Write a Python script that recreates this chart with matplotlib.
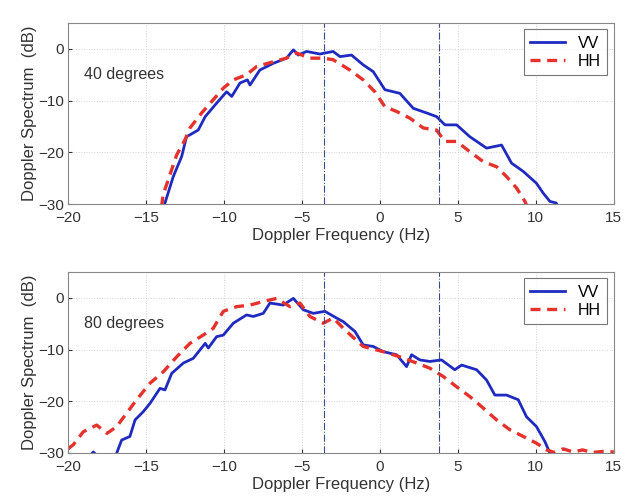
import matplotlib.pyplot as plt

plt.rcParams['font.family'] = ['Liberation Sans', 'DejaVu Sans']

# 40 degrees panel
vv40_f = [-13.9, -13.78, -13.25, -12.71, -12.4, -11.65, -11.2, -10.47, -9.83, -9.5, -8.97, -8.5, -8.33,
          -7.7, -6.84, -5.99, -5.55, -5.24, -4.7, -3.85, -3.0, -2.56, -1.82, -1.07, -0.43, 0.32, 1.28,
          2.14, 3.0, 3.63, 4.17, 4.92, 5.77, 6.84, 7.8, 8.44, 9.19, 10.04, 10.47, 10.9, 11.3, 11.5]
vv40_db = [-31, -29.8, -24.7, -20.8, -17.0, -15.7, -13.1, -10.5, -8.3, -9.2, -6.6, -6.0, -7.0,
           -4.1, -2.8, -1.8, -0.2, -1.2, -0.5, -1.0, -0.5, -1.5, -1.2, -3.1, -4.4, -7.9, -8.6,
           -11.5, -12.4, -13.1, -14.7, -14.7, -17.0, -19.2, -18.6, -22.1, -23.7, -26.0, -27.9, -29.5, -29.8, -31]
hh40_f = [-14.0, -13.9, -13.57, -13.03, -12.5, -12.18, -11.43, -10.79, -10.04, -9.4, -8.55, -7.9, -6.84,
          -6.0, -5.35, -4.5, -3.6, -3.0, -1.92, -1.07, -0.32, 0.32, 1.07, 1.92, 2.78, 3.63, 4.17,
          4.92, 5.77, 6.62, 7.48, 8.12, 8.76, 9.3, 9.5]
hh40_db = [-30.5, -28.2, -25.3, -20.5, -17.6, -15.3, -12.4, -10.2, -7.6, -6.0, -5.0, -3.4, -2.5,
           -1.8, -0.8, -1.8, -1.8, -2.1, -4.1, -6.0, -8.3, -11.2, -12.1, -13.4, -15.3, -15.7, -17.9,
           -17.9, -19.9, -21.8, -22.8, -24.7, -26.9, -29.5, -31]

# 80 degrees panel
vv80_f = [-18.6, -18.38, -18.1, -17.2, -16.9, -16.56, -16.03, -15.7, -15.17, -14.74, -14.1, -13.78,
          -13.35, -12.6, -11.97, -11.2, -11.0, -10.47, -10.04, -9.4, -8.55, -8.12, -7.48, -7.05,
          -6.2, -5.55, -4.91, -4.27, -3.53, -2.78, -2.35, -1.6, -1.07, -0.43, 0.21, 1.07, 1.71,
          2.03, 2.56, 3.2, 3.95, 4.8, 5.24, 6.2, 6.84, 7.37, 8.12, 8.87, 9.4, 10.04, 10.58, 10.9, 11.1]
vv80_db = [-30.6, -29.8, -30.6, -31, -30.2, -27.5, -26.8, -23.6, -22.0, -20.4, -17.5, -17.8,
           -14.6, -12.6, -11.7, -8.8, -9.7, -7.5, -7.2, -4.9, -3.3, -3.6, -3.0, -1.0,
           -1.4, -0.1, -2.3, -3.0, -2.6, -3.9, -4.6, -6.5, -9.1, -9.4, -10.4, -11.0, -13.3,
           -11.0, -12.0, -12.3, -12.0, -13.9, -13.0, -13.9, -15.9, -18.8, -18.8, -19.7, -23.0, -24.9, -27.8, -30, -31]
hh80_f = [-20.0, -19.66, -19.02, -18.16, -17.5, -16.88, -16.24, -15.6, -14.74, -13.89, -13.03, -12.18,
          -11.33, -10.69, -10.04, -9.19, -8.33, -7.48, -6.62, -5.77, -5.13, -4.49, -3.63, -2.99,
          -2.24, -1.07, 0.21, 1.28, 2.35, 3.2, 4.06, 4.92, 5.77, 6.62, 7.48, 8.33, 9.19, 10.04,
          10.68, 11.2, 11.75, 12.4, 13.0, 13.6, 14.3, 15.0]
hh80_db = [-29.2, -28.4, -25.9, -24.6, -26.2, -24.9, -22.3, -19.7, -16.5, -14.3, -11.4, -8.8,
           -7.2, -5.9, -2.6, -1.7, -1.4, -0.7, -0.1, -1.7, -1.0, -3.6, -4.9, -3.9,
           -6.2, -9.4, -10.4, -11.4, -12.6, -13.6, -15.2, -17.2, -19.1, -21.3, -23.6, -25.5, -26.8, -28.1,
           -29.4, -29.9, -29.2, -29.8, -29.4, -29.9, -29.7, -29.8]

marks = [-3.6, 3.8]

panels = [
    (vv40_f, vv40_db, hh40_f, hh40_db, '40 degrees'),
    (vv80_f, vv80_db, hh80_f, hh80_db, '80 degrees'),
]

fig = plt.figure(figsize=(6.26, 5.0), dpi=100)
boxes = [[0.1086, 0.592, 0.872, 0.362], [0.1086, 0.094, 0.872, 0.362]]

for box, (vf, vdb, hf, hdb, name) in zip(boxes, panels):
    ax = fig.add_axes(box)
    ax.plot(vf, vdb, color='#1f2bc0', lw=2.0, label='VV')
    ax.plot(hf, hdb, color='#e5322c', lw=2.4, ls=(0, (3, 2)), label='HH')
    for m in marks:
        ax.axvline(m, color='#3a4a8a', lw=0.8, ls='-.')
    ax.set_xlim(-20, 15)
    ax.set_ylim(-30, 5)
    ax.set_xticks(range(-20, 16, 5))
    ax.set_yticks([-30, -20, -10, 0])
    ax.grid(True, ls=':', color='#d0d0d0', lw=0.7)
    ax.tick_params(direction='in', labelsize=11, colors='#333333', length=3)
    ax.tick_params(axis='x', pad=5)
    ax.tick_params(axis='y', pad=3)
    for s in ax.spines.values():
        s.set_color('#888888')
    ax.text(-19.0, -5.0, name, fontsize=11.5, color='#333333', va='center')
    ax.set_xlabel('Doppler Frequency (Hz)', fontsize=12, color='#333333', labelpad=2)
    ax.set_ylabel('Doppler Spectrum  (dB)', fontsize=12, color='#333333', labelpad=1)
    leg = ax.legend(loc='upper right', fontsize=11.5, frameon=True, fancybox=False,
                    handlelength=2.2, borderaxespad=0.4, labelspacing=0.2)
    leg.get_frame().set_edgecolor('#555555')
    leg.get_frame().set_linewidth(0.8)

fig.savefig('out.png', dpi=100)
